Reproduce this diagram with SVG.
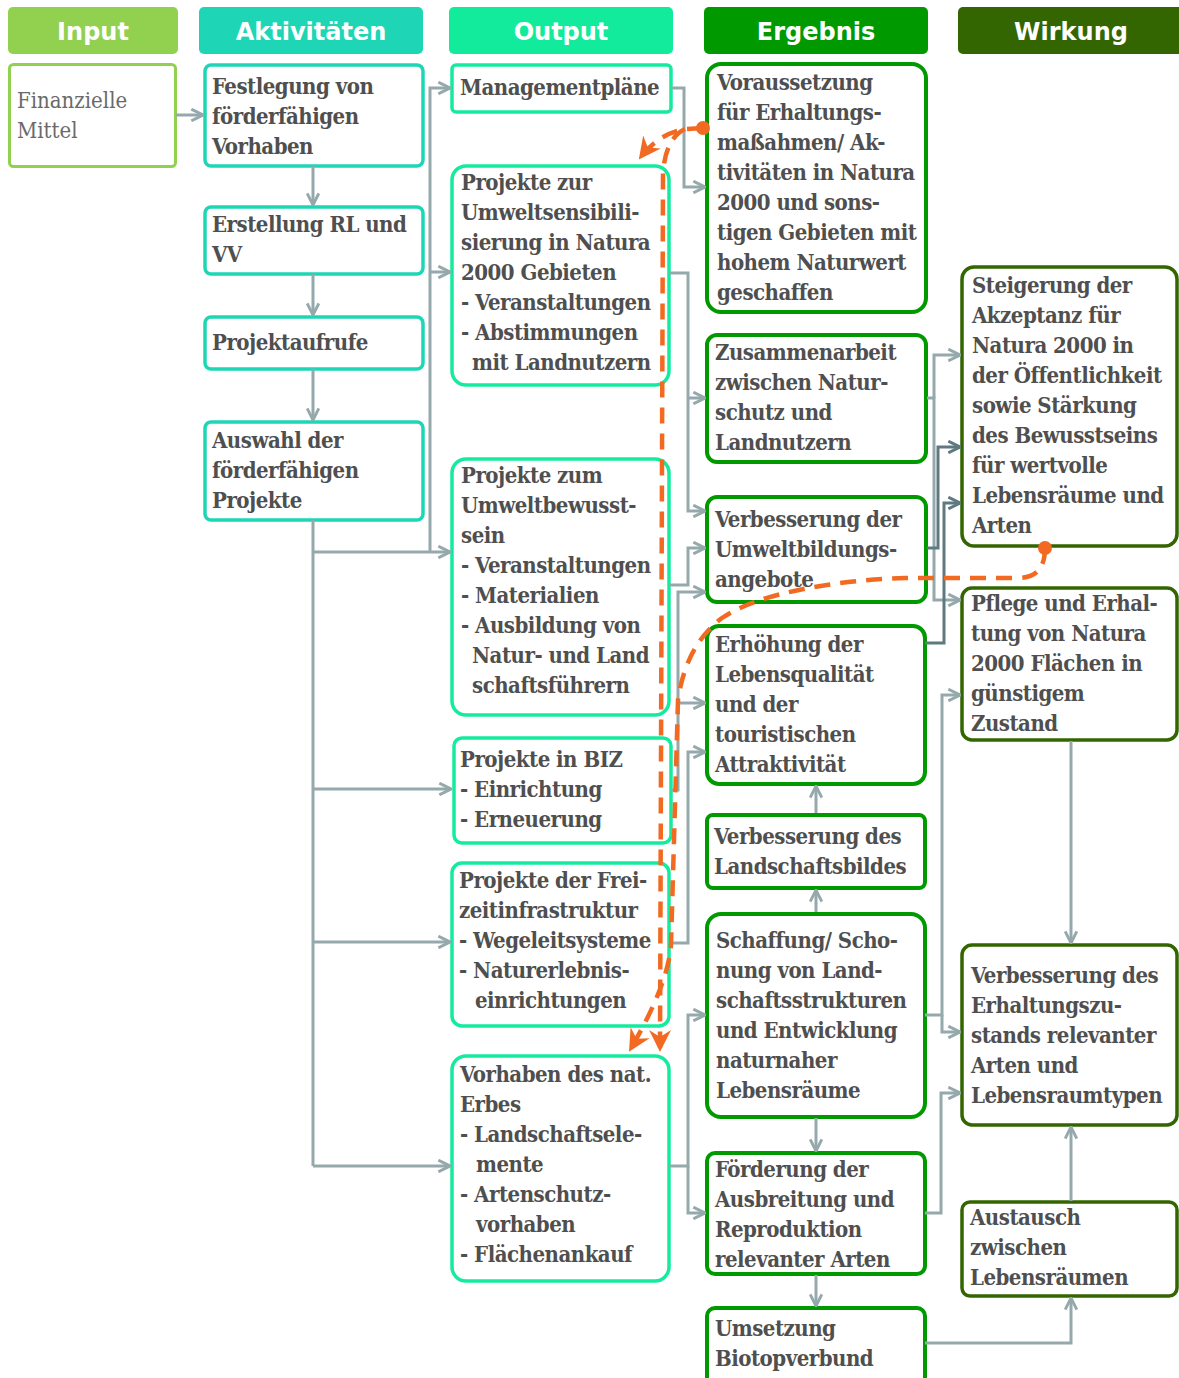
<svg xmlns="http://www.w3.org/2000/svg" width="1179" height="1378" viewBox="0 0 1179 1378">
<style>
.h{font-family:"DejaVu Sans","Open Sans",sans-serif;font-weight:700;font-size:24px;fill:#fff;text-anchor:middle}
.t{font-family:"DejaVu Serif","Liberation Serif",serif;font-weight:700;font-stretch:condensed;font-size:22px;letter-spacing:-0.5px;fill:#4f4f4f}
.r{font-family:"DejaVu Serif","Liberation Serif",serif;font-weight:400;font-stretch:condensed;font-size:22px;fill:#6a6a6a}
.bi{fill:#fff;stroke:#92D050;stroke-width:3}
.ba{fill:#fff;stroke:#1ED6B6;stroke-width:3.5}
.bo{fill:#fff;stroke:#14EB9E;stroke-width:3.5}
.be{fill:#fff;stroke:#009A00;stroke-width:4}
.bw{fill:#fff;stroke:#336600;stroke-width:3.5}
.c{fill:none;stroke:#95A9AC;stroke-width:3}
.cd{fill:none;stroke:#5E7A80;stroke-width:3}
.ca{marker-end:url(#ah)}
.cda{marker-end:url(#ahd)}
.o{fill:none;stroke:#F26A21;stroke-width:4.5;stroke-dasharray:16 10}
</style>
<defs>
<marker id="ah" viewBox="0 0 12 12" refX="11" refY="6" markerWidth="14" markerHeight="14" markerUnits="userSpaceOnUse" orient="auto"><path d="M1,1 L11,6 L1,11" fill="none" stroke="#95A9AC" stroke-width="2.5"/></marker>
<marker id="ahd" viewBox="0 0 12 12" refX="11" refY="6" markerWidth="14" markerHeight="14" markerUnits="userSpaceOnUse" orient="auto"><path d="M1,1 L11,6 L1,11" fill="none" stroke="#5E7A80" stroke-width="2.5"/></marker>
<marker id="oa" viewBox="0 0 12 12" refX="10" refY="6" markerWidth="24" markerHeight="24" markerUnits="userSpaceOnUse" orient="auto"><path d="M0,0.5 L11,6 L0,11.5 L3.5,6 Z" fill="#F26A21"/></marker>
</defs>

<g id="headers">
<rect x="8" y="7" width="170" height="47" rx="5" fill="#92D050"/><text class="h" x="93" y="40">Input</text>
<rect x="199" y="7" width="224" height="47" rx="5" fill="#1ED6B6"/><text class="h" x="311" y="40">Aktivitäten</text>
<rect x="449" y="7" width="224" height="47" rx="5" fill="#12EB9C"/><text class="h" x="561" y="40">Output</text>
<rect x="704" y="7" width="224" height="47" rx="5" fill="#009900"/><text class="h" x="816" y="40">Ergebnis</text>
<rect x="958" y="7" width="230" height="47" rx="5" fill="#336600"/><text class="h" x="1071" y="40">Wirkung</text>
</g>

<g id="n-finanzielle-mittel"><rect class="bi" x="9.5" y="64.5" width="166" height="102" rx="4"/>
<text class="r"><tspan x="17" y="108">Finanzielle</tspan><tspan x="17" y="138">Mittel</tspan></text></g>

<g id="n-festlegung"><rect class="ba" x="205" y="65" width="218" height="101" rx="6"/>
<text class="t"><tspan x="212" y="94">Festlegung von</tspan><tspan x="212" y="124">förderfähigen</tspan><tspan x="212" y="154">Vorhaben</tspan></text></g>
<g id="n-erstellung"><rect class="ba" x="205" y="207" width="218" height="67" rx="6"/>
<text class="t"><tspan x="212" y="232">Erstellung RL und</tspan><tspan x="212" y="262">VV</tspan></text></g>
<g id="n-projektaufrufe"><rect class="ba" x="205" y="317" width="218" height="52" rx="6"/>
<text class="t"><tspan x="212" y="350">Projektaufrufe</tspan></text></g>
<g id="n-auswahl"><rect class="ba" x="205" y="422" width="218" height="98" rx="6"/>
<text class="t"><tspan x="212" y="448">Auswahl der</tspan><tspan x="212" y="478">förderfähigen</tspan><tspan x="212" y="508">Projekte</tspan></text></g>

<g id="n-managementplaene"><rect class="bo" x="452" y="65" width="219" height="47" rx="4"/>
<text class="t"><tspan x="460" y="95">Managementpläne</tspan></text></g>
<g id="n-umweltsensibilisierung"><rect class="bo" x="452" y="166" width="217" height="219" rx="14"/>
<text class="t"><tspan x="461" y="190">Projekte zur</tspan><tspan x="461" y="220">Umweltsensibili-</tspan><tspan x="461" y="250">sierung in Natura</tspan><tspan x="461" y="280">2000 Gebieten</tspan><tspan x="461" y="310">- Veranstaltungen</tspan><tspan x="461" y="340">- Abstimmungen</tspan><tspan x="472" y="370">mit Landnutzern</tspan></text></g>
<g id="n-umweltbewusstsein"><rect class="bo" x="452" y="459" width="217" height="256" rx="14"/>
<text class="t"><tspan x="461" y="483">Projekte zum</tspan><tspan x="461" y="513">Umweltbewusst-</tspan><tspan x="461" y="543">sein</tspan><tspan x="461" y="573">- Veranstaltungen</tspan><tspan x="461" y="603">- Materialien</tspan><tspan x="461" y="633">- Ausbildung von</tspan><tspan x="472" y="663">Natur- und Land</tspan><tspan x="472" y="693">schaftsführern</tspan></text></g>
<g id="n-biz"><rect class="bo" x="454" y="738" width="217" height="105" rx="8"/>
<text class="t"><tspan x="460" y="767">Projekte in BIZ</tspan><tspan x="460" y="797">- Einrichtung</tspan><tspan x="460" y="827">- Erneuerung</tspan></text></g>
<g id="n-freizeitinfrastruktur"><rect class="bo" x="452" y="863" width="217" height="163" rx="10"/>
<text class="t"><tspan x="459" y="888">Projekte der Frei-</tspan><tspan x="459" y="918">zeitinfrastruktur</tspan><tspan x="459" y="948">- Wegeleitsysteme</tspan><tspan x="459" y="978">- Naturerlebnis-</tspan><tspan x="475" y="1008">einrichtungen</tspan></text></g>
<g id="n-nat-erbe"><rect class="bo" x="452" y="1056" width="217" height="225" rx="14"/>
<text class="t"><tspan x="460" y="1082">Vorhaben des nat.</tspan><tspan x="460" y="1112">Erbes</tspan><tspan x="460" y="1142">- Landschaftsele-</tspan><tspan x="476" y="1172">mente</tspan><tspan x="460" y="1202">- Artenschutz-</tspan><tspan x="476" y="1232">vorhaben</tspan><tspan x="460" y="1262">- Flächenankauf</tspan></text></g>

<g id="n-voraussetzung"><rect class="be" x="707" y="64" width="219" height="248" rx="14"/>
<text class="t"><tspan x="717" y="90">Voraussetzung</tspan><tspan x="717" y="120">für Erhaltungs-</tspan><tspan x="717" y="150">maßahmen/ Ak-</tspan><tspan x="717" y="180">tivitäten in Natura</tspan><tspan x="717" y="210">2000 und sons-</tspan><tspan x="717" y="240">tigen Gebieten mit</tspan><tspan x="717" y="270">hohem Naturwert</tspan><tspan x="717" y="300">geschaffen</tspan></text></g>
<g id="n-zusammenarbeit"><rect class="be" x="707" y="335" width="219" height="127" rx="10"/>
<text class="t"><tspan x="715" y="360">Zusammenarbeit</tspan><tspan x="715" y="390">zwischen Natur-</tspan><tspan x="715" y="420">schutz und</tspan><tspan x="715" y="450">Landnutzern</tspan></text></g>
<g id="n-umweltbildung"><rect class="be" x="707" y="497" width="219" height="105" rx="10"/>
<text class="t"><tspan x="715" y="527">Verbesserung der</tspan><tspan x="715" y="557">Umweltbildungs-</tspan><tspan x="715" y="587">angebote</tspan></text></g>
<g id="n-lebensqualitaet"><rect class="be" x="707" y="626" width="218" height="158" rx="12"/>
<text class="t"><tspan x="715" y="652">Erhöhung der</tspan><tspan x="715" y="682">Lebensqualität</tspan><tspan x="715" y="712">und der</tspan><tspan x="715" y="742">touristischen</tspan><tspan x="715" y="772">Attraktivität</tspan></text></g>
<g id="n-landschaftsbild"><rect class="be" x="707" y="815" width="218" height="73" rx="6"/>
<text class="t"><tspan x="714" y="844">Verbesserung des</tspan><tspan x="714" y="874">Landschaftsbildes</tspan></text></g>
<g id="n-landschaftsstrukturen"><rect class="be" x="707" y="914" width="218" height="203" rx="14"/>
<text class="t"><tspan x="716" y="948">Schaffung/ Scho-</tspan><tspan x="716" y="978">nung von Land-</tspan><tspan x="716" y="1008">schaftsstrukturen</tspan><tspan x="716" y="1038">und Entwicklung</tspan><tspan x="716" y="1068">naturnaher</tspan><tspan x="716" y="1098">Lebensräume</tspan></text></g>
<g id="n-foerderung-arten"><rect class="be" x="707" y="1153" width="218" height="121" rx="8"/>
<text class="t"><tspan x="715" y="1177">Förderung der</tspan><tspan x="715" y="1207">Ausbreitung und</tspan><tspan x="715" y="1237">Reproduktion</tspan><tspan x="715" y="1267">relevanter Arten</tspan></text></g>
<g id="n-biotopverbund"><rect class="be" x="707" y="1308" width="218" height="80" rx="8"/>
<text class="t"><tspan x="715" y="1336">Umsetzung</tspan><tspan x="715" y="1366">Biotopverbund</tspan></text></g>

<g id="n-akzeptanz"><rect class="bw" x="962" y="267" width="215" height="279" rx="12"/>
<text class="t"><tspan x="972" y="293">Steigerung der</tspan><tspan x="972" y="323">Akzeptanz für</tspan><tspan x="972" y="353">Natura 2000 in</tspan><tspan x="972" y="383">der Öffentlichkeit</tspan><tspan x="972" y="413">sowie Stärkung</tspan><tspan x="972" y="443">des Bewusstseins</tspan><tspan x="972" y="473">für wertvolle</tspan><tspan x="972" y="503">Lebensräume und</tspan><tspan x="972" y="533">Arten</tspan></text></g>
<g id="n-pflege"><rect class="bw" x="962" y="588" width="215" height="152" rx="10"/>
<text class="t"><tspan x="971" y="611">Pflege und Erhal-</tspan><tspan x="971" y="641">tung von Natura</tspan><tspan x="971" y="671">2000 Flächen in</tspan><tspan x="971" y="701">günstigem</tspan><tspan x="971" y="731">Zustand</tspan></text></g>
<g id="n-erhaltungszustand"><rect class="bw" x="962" y="945" width="215" height="180" rx="10"/>
<text class="t"><tspan x="971" y="983">Verbesserung des</tspan><tspan x="971" y="1013">Erhaltungszu-</tspan><tspan x="971" y="1043">stands relevanter</tspan><tspan x="971" y="1073">Arten und</tspan><tspan x="971" y="1103">Lebensraumtypen</tspan></text></g>
<g id="n-austausch"><rect class="bw" x="962" y="1202" width="215" height="94" rx="8"/>
<text class="t"><tspan x="970" y="1225">Austausch</tspan><tspan x="970" y="1255">zwischen</tspan><tspan x="970" y="1285">Lebensräumen</tspan></text></g>

<g id="connectors">
<path class="c ca" d="M176,115 L203,115"/>
<path class="c ca" d="M313,166 L313,205"/>
<path class="c ca" d="M313,274 L313,315"/>
<path class="c ca" d="M313,369 L313,420"/>
<path class="c" d="M313,520 L313,1166"/>
<path class="c ca" d="M313,552 L450,552"/>
<path class="c ca" d="M313,789 L451,789"/>
<path class="c ca" d="M313,942 L450,942"/>
<path class="c ca" d="M313,1166 L450,1166"/>
<path class="c ca" d="M430,552 L430,88 L450,88"/>
<path class="c ca" d="M430,272 L450,272"/>
<path class="c ca" d="M672,88 L684,88 L684,187 L705,187"/>
<path class="c ca" d="M670,273 L688,273 L688,511 L705,511"/>
<path class="c ca" d="M688,398 L705,398"/>
<path class="c ca" d="M670,585 L688,585 L688,548 L705,548"/>
<path class="c ca" d="M672,790 L678,790 L678,592 L705,592"/>
<path class="c ca" d="M678,703 L705,703"/>
<path class="c ca" d="M670,943 L688,943 L688,752 L705,752"/>
<path class="c ca" d="M670,1166 L688,1166 L688,1015 L705,1015"/>
<path class="c ca" d="M688,1166 L688,1213 L705,1213"/>
<path class="c ca" d="M927,398 L934,398 L934,600 L960,600"/>
<path class="c ca" d="M934,398 L934,355 L960,355"/>
<path class="cd cda" d="M927,548 L938,548 L938,447 L960,447"/>
<path class="cd cda" d="M925,643 L944,643 L944,503 L960,503"/>
<path class="c ca" d="M925,1015 L942,1015 L942,695 L960,695"/>
<path class="c ca" d="M942,1015 L942,1032 L960,1032"/>
<path class="c ca" d="M925,1213 L941,1213 L941,1093 L960,1093"/>
<path class="c ca" d="M925,1343 L1071,1343 L1071,1298"/>
<path class="c ca" d="M1071,1201 L1071,1127"/>
<path class="c ca" d="M1071,741 L1071,943"/>
<path class="c ca" d="M816,813 L816,786"/>
<path class="c ca" d="M816,912 L816,890"/>
<path class="c ca" d="M816,1118 L816,1151"/>
<path class="c ca" d="M816,1275 L816,1306"/>
<path class="o" d="M703,128 L685,129 Q658,134 640,158" marker-end="url(#oa)"/>
<path class="o" d="M685,129 Q666,138 663,172 L660,1050" marker-end="url(#oa)"/>
<path class="o" d="M1045,548 Q1045,578 1018,578 L905,578 C840,580 760,592 722,618 Q686,645 678,700 L671,945 Q668,985 630,1050" marker-end="url(#oa)"/>
<circle cx="703" cy="128" r="7" fill="#F26A21"/>
<circle cx="1045" cy="548" r="7" fill="#F26A21"/>
</g>
</svg>
